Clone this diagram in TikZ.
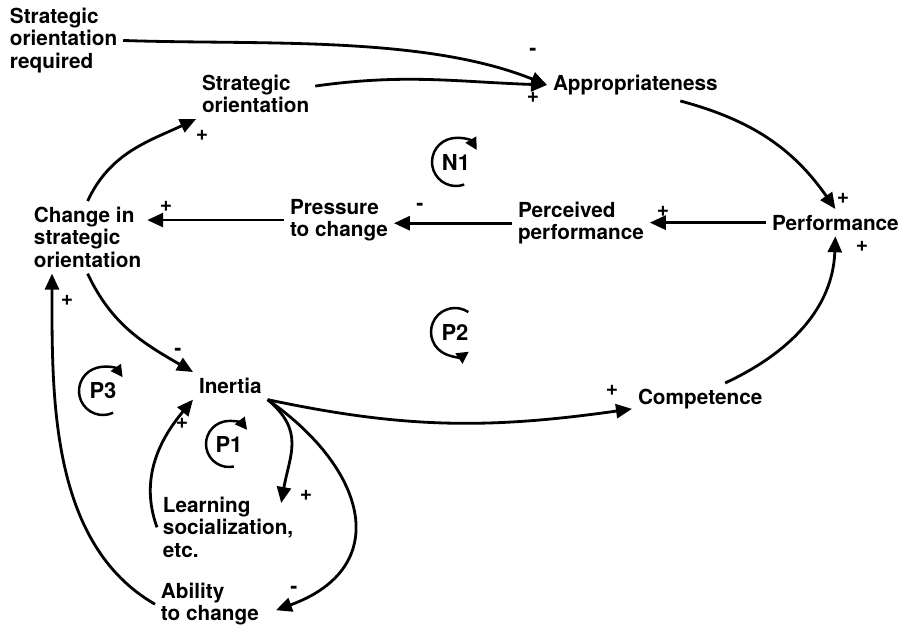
\documentclass[tikz,border=0pt]{standalone}
\usepackage{fontspec}
\setmainfont{TeX Gyre Heros}
\usetikzlibrary{arrows.meta}

\begin{document}
\begin{tikzpicture}[
    x=0.02cm, y=0.02cm,
    var/.style={inner sep=0pt, outer sep=0.12cm, anchor=north west, align=left, font=\bfseries\fontsize{11.8}{12.8}\selectfont},
    sign/.style={inner sep=0pt, font=\bfseries\fontsize{12}{12}\selectfont},
    loopname/.style={inner sep=0pt, font=\bfseries\fontsize{12.5}{12.5}\selectfont},
    arrow/.style={line width=1.6pt, -{Triangle[length=0.32cm, width=0.28cm]}},
    looparc/.style={line width=1.4pt, -{Triangle[length=0.24cm, width=0.24cm]}}
]
  \useasboundingbox (0,0) rectangle (900,-629);

  % Variables
  \node (req) [var] at (4,-2) {Strategic\\orientation\\required};
  \node (so) [var] at (196,-69) {Strategic\\orientation};
  \node (app) [var] at (547,-69) {Appropriateness};
  \node (chg) [var] at (28,-201) {Change in\\strategic\\orientation};
  \node (press) [var] at (284,-193) {Pressure\\to change};
  \node (perc) [var] at (512,-196) {Perceived\\performance};
  \node (perf) [var] at (766,-209) {Performance};
  \node (comp) [var] at (632,-383) {Competence};
  \node (inert) [var] at (193,-372) {Inertia};
  \node (learn) [var] at (157,-491) {Learning\\socialization,\\etc.};
  \node (abil) [var] at (155,-577) {Ability\\to change};

  % Arrows
  \draw [arrow] (req.east) to[out=-2, in=158, looseness=0.8] (app.west);
  \draw [arrow] ([yshift=0.16cm]so.east) to[out=8, in=178] (app.west);
  \draw [arrow] ([xshift=0.9cm]app.south) to[out=-15, in=125] (perf.north);
  \draw [arrow] (perf.west) -- (perf.west -| perc.east);
  \draw [arrow] (perc.west) -- (perc.west -| press.east);
  \draw [arrow] (press.west) -- (press.west -| chg.east);
  \draw [arrow] (chg.north) to[out=65, in=205] (so.south west);
  \draw [arrow] (chg.south) to[out=-65, in=150] (inert.north west);
  \draw [arrow] (inert.south east) to[out=-12, in=188] ([yshift=0.12cm]comp.south west);
  \draw [arrow] ([xshift=0.5cm]comp.north) to[out=25, in=-92] (perf.south);
  \draw [arrow] (inert.south east) to[out=-40, in=80, looseness=1.2] ([shift={(-0.36cm,-0.24cm)}]learn.north east);
  \draw [arrow] (inert.south east) to[out=-35, in=20, looseness=1.5] ([shift={(0.22cm,-0.12cm)}]abil.east);
  \draw [arrow] (learn.west) to[out=110, in=230] (inert.south west);
  \draw [arrow] (abil.west) to[out=150, in=-90, looseness=0.9] ([xshift=0.48cm]chg.south west);

  % Signs
  \node (sg1) [sign] at (533,-52) {-};
  \node (sg2) [sign] at (533,-97) {+};
  \node (sg3) [sign] at (843,-198) {+};
  \node (sg4) [sign] at (663,-211) {+};
  \node (sg5) [sign] at (420,-207) {-};
  \node (sg6) [sign] at (166,-206) {+};
  \node (sg7) [sign] at (202,-135) {+};
  \node (sg8) [sign] at (178,-352) {-};
  \node (sg9) [sign] at (612,-390) {+};
  \node (sg10) [sign] at (862,-246) {+};
  \node (sg11) [sign] at (306,-495) {+};
  \node (sg12) [sign] at (294,-590) {-};
  \node (sg13) [sign] at (182,-423) {+};
  \node (sg14) [sign] at (67,-300) {+};

  % Loops
  \node (n1) [loopname] at (456,-162) {N1};
  \draw [looparc] ([shift={(-70:0.48cm)}]n1.center) arc[start angle=-70, end angle=-330, radius=0.48cm];
  \node (p2) [loopname] at (455,-332) {P2};
  \draw [looparc] ([shift={(56:0.48cm)}]p2.center) arc[start angle=56, end angle=305, radius=0.48cm];
  \node (p3) [loopname] at (103,-391) {P3};
  \draw [looparc] ([shift={(-65:0.48cm)}]p3.center) arc[start angle=-65, end angle=-325, radius=0.48cm];
  \node (p1) [loopname] at (229,-444) {P1};
  \draw [looparc] ([shift={(-78:0.46cm)}]p1.center) arc[start angle=-78, end angle=-322, radius=0.46cm];
\end{tikzpicture}
\end{document}
